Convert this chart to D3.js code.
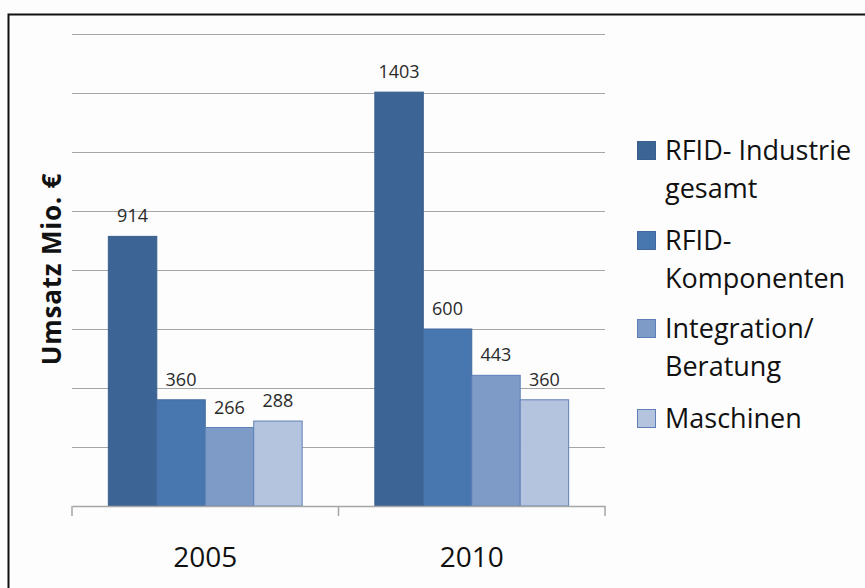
<!DOCTYPE html>
<html>
<head>
<meta charset="utf-8">
<script src="https://cdn.jsdelivr.net/npm/d3@7"></script>
<style>
  body { margin: 0; background: #fdfdfd; }
  svg { display: block; }
</style>
</head>
<body>
<div id="chart"></div>
<script>
// data
var years = ["2005", "2010"];
var seriesNames = ["RFID- Industrie gesamt", "RFID- Komponenten", "Integration/ Beratung", "Maschinen"];
var legendLines = [["RFID- Industrie", "gesamt"], ["RFID-", "Komponenten"], ["Integration/", "Beratung"], ["Maschinen"]];
var values2005 = [914, 360, 266, 288];
var values2010 = [1403, 600, 443, 360];
var yTicks = [0, 200, 400, 600, 800, 1000, 1200, 1400, 1600];

var colors = ["#3c6494", "#4877b0", "#7e9bc8", "#b4c4de"];
var strokes = ["#3a5f8e", "#41699d", "#5b7fb6", "#5e80b6"];

var W = 865, H = 588;
var svg = d3.select("#chart").append("svg")
    .attr("width", W).attr("height", H);

svg.append("rect")
    .attr("x", 0).attr("y", 0).attr("width", W).attr("height", H)
    .attr("fill", "#fdfdfd");

// outer frame (only top and left visible)
svg.append("path")
    .attr("d", "M8.5," + (H + 5) + " V14.5 H" + (W + 5))
    .attr("fill", "none")
    .attr("stroke", "#111")
    .attr("stroke-width", 2);

var plotLeft = 72, plotRight = 605, plotTop = 34, plotBottom = 506;

var x0 = d3.scaleBand().domain(years).range([plotLeft, plotRight]);
var x1 = d3.scaleBand().domain(seriesNames).range([0, x0.bandwidth()]).paddingOuter(0.75);
var y = d3.scaleLinear().domain([0, 1600]).range([plotBottom, plotTop]);

// grid lines
svg.append("g")
    .selectAll("line")
    .data(yTicks.slice(1))
    .enter().append("line")
    .attr("x1", plotLeft).attr("x2", plotRight)
    .attr("y1", d => Math.round(y(d)) + 0.5)
    .attr("y2", d => Math.round(y(d)) + 0.5)
    .attr("stroke", "#a6a6a6")
    .attr("stroke-width", 1.2);

var data = years.map(function(yr, i) {
    var vals = i === 0 ? values2005 : values2010;
    return { year: yr, items: seriesNames.map((s, j) => ({ name: s, value: vals[j], idx: j })) };
});

var groups = svg.append("g").selectAll("g")
    .data(data).enter().append("g")
    .attr("transform", d => "translate(" + x0(d.year) + ",0)");

groups.selectAll("rect")
    .data(d => d.items)
    .enter().append("rect")
    .attr("x", d => x1(d.name))
    .attr("y", d => y(d.value))
    .attr("width", x1.bandwidth())
    .attr("height", d => plotBottom - y(d.value))
    .attr("fill", d => colors[d.idx])
    .attr("stroke", d => strokes[d.idx])
    .attr("stroke-width", 1);

groups.selectAll("text")
    .data(d => d.items)
    .enter().append("text")
    .attr("x", d => x1(d.name) + x1.bandwidth() / 2)
    .attr("y", d => y(d.value) - 14)
    .attr("text-anchor", "middle")
    .style("font-family", "Open Sans")
    .style("font-size", "18px")
    .attr("fill", "#2a2a2a")
    .text(d => d.value);

// x axis
var xAxis = svg.append("g")
    .attr("transform", "translate(0," + plotBottom + ")")
    .call(d3.axisBottom(x0).tickSize(0).tickFormat(""));
xAxis.select(".domain").attr("stroke", "#a6a6a6").attr("stroke-width", 1.5);
var edges = [plotLeft].concat(years.map(yr => x0(yr) + x0.bandwidth()));
svg.append("g").selectAll("line")
    .data(edges).enter().append("line")
    .attr("x1", d => d).attr("x2", d => d)
    .attr("y1", plotBottom).attr("y2", plotBottom + 10)
    .attr("stroke", "#a6a6a6").attr("stroke-width", 1.5);

svg.append("g").selectAll("text")
    .data(years).enter().append("text")
    .attr("x", d => x0(d) + x0.bandwidth() / 2)
    .attr("y", 567)
    .attr("text-anchor", "middle")
    .style("font-family", "Open Sans")
    .style("font-size", "28px")
    .attr("fill", "#111")
    .text(d => d);

// y axis title
svg.append("text")
    .attr("transform", "translate(61,269) rotate(-90)")
    .attr("text-anchor", "middle")
    .style("font-family", "Open Sans")
    .style("font-weight", "bold")
    .style("font-size", "26px")
    .style("letter-spacing", "0.8px")
    .attr("fill", "#111")
    .text("Umsatz  Mio. €");

// legend
var legendTop = [160, 250, 338, 428];
var legend = svg.append("g").selectAll("g")
    .data(legendLines).enter().append("g");
legend.append("rect")
    .attr("x", 637.5)
    .attr("y", (d, i) => legendTop[i] - 18.5)
    .attr("width", 18).attr("height", 18)
    .attr("fill", (d, i) => colors[i])
    .attr("stroke", (d, i) => strokes[i]);
legend.each(function(lines, i) {
    d3.select(this).selectAll("text")
        .data(lines).enter().append("text")
        .attr("x", 665)
        .attr("y", (t, k) => legendTop[i] + k * 38)
        .style("font-family", "Open Sans")
        .style("font-size", "27px")
        .attr("fill", "#111")
        .text(t => t);
});
</script>
</body>
</html>
